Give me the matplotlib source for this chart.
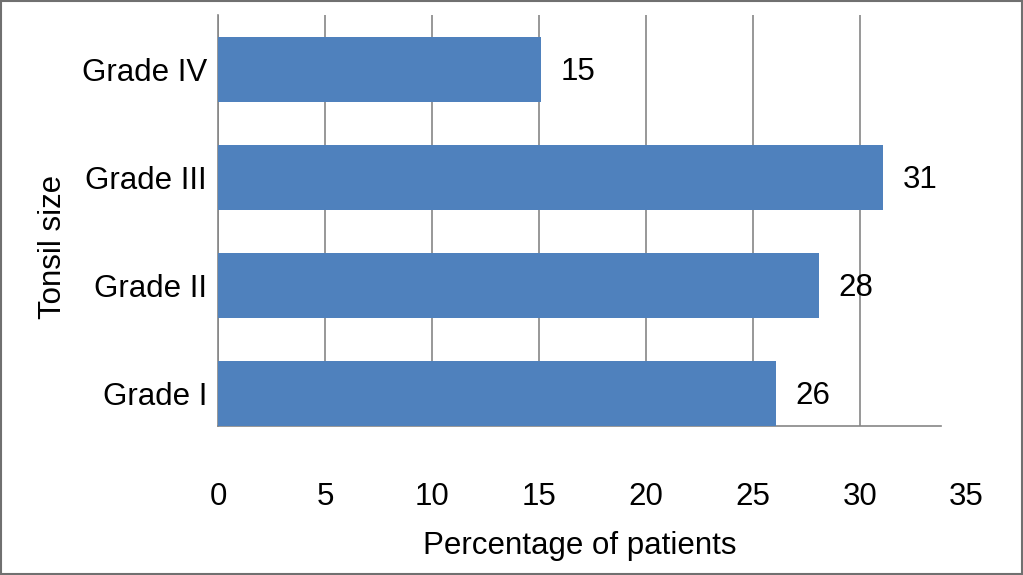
import matplotlib.pyplot as plt

plt.rcParams['font.family'] = ['Liberation Sans', 'DejaVu Sans']

grades = ["Grade I", "Grade II", "Grade III", "Grade IV"]
percent = [26.1, 28.1, 31.1, 15.1]
labels = ["26", "28", "31", "15"]
xticks = [0, 5, 10, 15, 20, 25, 30, 35]

fs = 22.5
fig = plt.figure(figsize=(10.23, 5.75), dpi=100)
ax = fig.add_axes([0.2131, 0.2591, 0.7067, 0.7148])

pos = range(len(grades))
ax.barh(pos, percent, height=0.6, color="#4F81BD", zorder=3)
for p, v, t in zip(pos, percent, labels):
    ax.annotate(t, xy=(v, p), xytext=(14, -2), textcoords="offset points",
                va="center", ha="left", fontsize=fs)

ax.set_xlim(0, 33.8)
ax.set_ylim(-0.3, 3.5)
ax.set_yticks(list(pos))
ax.set_yticklabels(grades, fontsize=fs)
ax.set_xticks(xticks[:-1])
ax.set_xticklabels([str(x) for x in xticks[:-1]], fontsize=fs)
xpad = 40
ax.tick_params(axis="x", length=0, pad=xpad)
ax.tick_params(axis="y", length=0, pad=8)
# last tick label sits past the end of the axis line
ax.annotate(str(xticks[-1]), xy=(xticks[-1], 0), xycoords=("data", "axes fraction"),
            xytext=(0, -xpad), textcoords="offset points",
            ha="center", va="top", fontsize=fs, annotation_clip=False)

ax.grid(axis="x", color="#868686", linewidth=1.2, zorder=0)
for s in ["top", "right"]:
    ax.spines[s].set_visible(False)
for s in ["left", "bottom"]:
    ax.spines[s].set_color("#868686")
    ax.spines[s].set_linewidth(1.2)

ax.set_xlabel("Percentage of patients", fontsize=fs, labelpad=14)
ax.set_ylabel("Tonsil size", fontsize=fs)
ax.yaxis.set_label_coords(-0.207, 0.435)

fig.patches.append(plt.Rectangle((0.001, 0.001), 0.998, 0.997, transform=fig.transFigure,
                                 fill=False, edgecolor="#707070", linewidth=1.5))

fig.savefig("out.png", dpi=100)
